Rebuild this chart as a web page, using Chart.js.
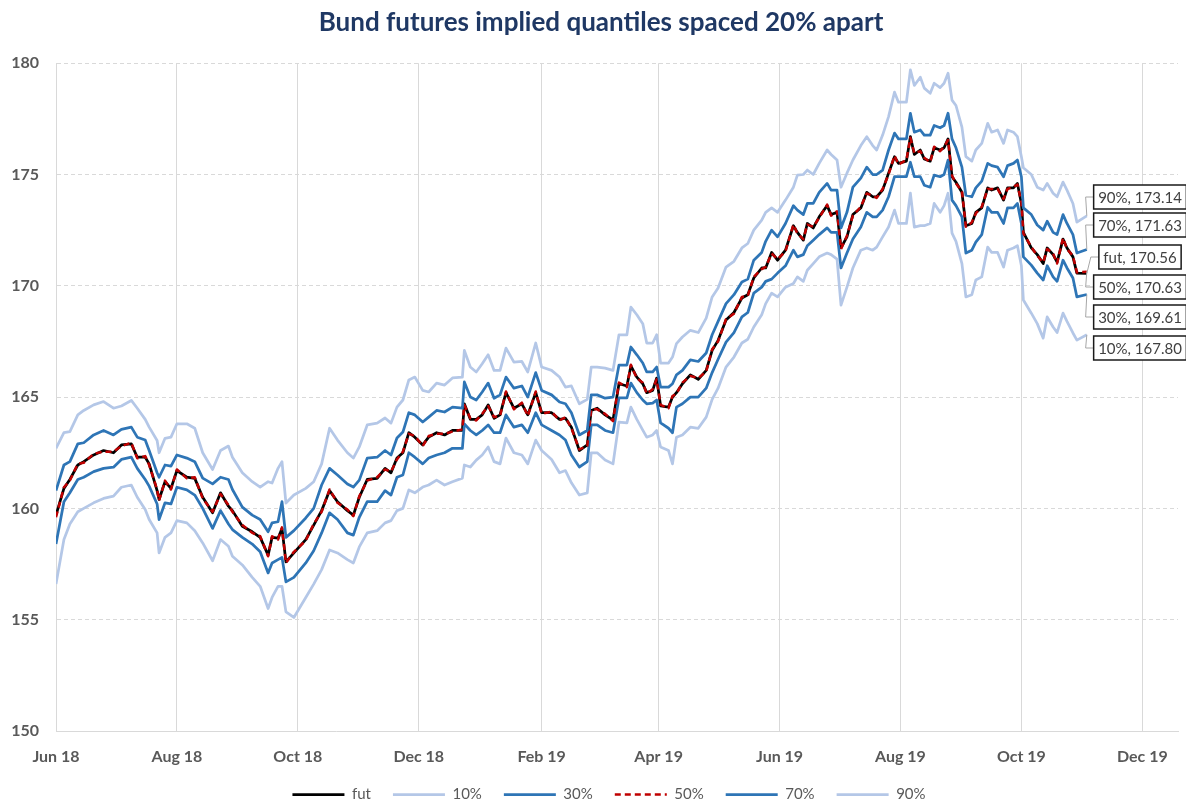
<!DOCTYPE html>
<html><head><meta charset="utf-8">
<script src="https://cdn.jsdelivr.net/npm/chart.js@4.4.1/dist/chart.umd.min.js"></script>
<style>html,body{margin:0;padding:0;background:#fff;}#wrap{width:1186px;height:802px;}</style>
</head><body><div id="wrap"><canvas id="c" width="1186" height="802"></canvas></div>
<script>
// day offsets since 2018-06-01
const startDate = '2018-06-01';
const days = [0,4,7,11,14,19,24,29,33,38,41,45,47,51,52,55,58,61,66,70,74,79,83,87,89,94,99,103,107,109,112,114,116,120,126,130,134,138,142,147,150,153,157,162,166,169,172,175,178,181,185,188,192,196,200,205,206,209,212,215,218,221,224,227,231,235,238,242,245,250,254,257,260,264,268,270,273,277,281,284,288,290,293,296,298,301,303,305,309,311,313,316,320,324,328,331,334,338,342,346,349,352,356,358,361,364,368,372,374,377,379,382,385,389,391,394,396,399,402,406,409,412,414,417,420,423,425,429,431,433,436,438,441,443,446,448,450,452,454,457,459,462,464,467,470,472,475,478,480,483,485,487,488,492,495,498,500,503,505,508,510,513,515,520];

const fut = [159.7,160.9,161.3,161.95,162.1,162.4,162.6,162.5,162.85,162.9,
162.3,162.3,162.0,160.8,160.4,161.2,160.9,161.7,161.4,161.35,
160.5,159.8,160.7,160.1,159.9,159.2,158.95,158.7,157.9,158.7,
158.66,159.1,157.6,158.0,158.6,159.25,159.9,160.8,160.3,159.9,
159.7,160.5,161.3,161.35,161.8,161.6,162.26,162.5,163.4,163.2,
162.85,163.2,163.4,163.3,163.5,163.5,164.7,164.0,164.0,164.2,
164.65,164.05,164.2,165.2,164.5,164.7,164.2,165.2,164.3,164.3,
164.0,164.05,163.65,162.6,162.85,164.4,164.5,164.2,163.97,165.6,
165.5,166.4,165.9,165.6,165.2,165.3,165.85,164.6,164.55,165.0,
165.2,165.6,166.0,165.8,166.2,167.1,167.55,168.46,168.8,169.45,
169.6,170.35,170.8,170.8,171.5,171.15,171.6,172.7,172.4,172.05,
172.8,172.6,173.1,173.6,173.2,173.3,171.7,172.2,173.2,173.5,
174.2,174.0,174.0,174.3,175.06,175.8,175.5,175.6,176.7,175.9,
176.1,175.7,175.6,176.2,176.1,176.2,176.6,174.9,174.65,174.2,
172.7,172.8,173.3,173.5,174.4,174.3,174.4,173.85,174.4,174.4,
174.6,173.7,172.4,171.7,171.4,171.0,171.7,171.4,171.06,172.1,
171.7,171.3,170.57,170.56];

const q10 = [156.6,158.6,159.3,159.85,160.0,160.25,160.45,160.55,160.95,161.05,
160.5,159.95,159.5,158.9,158.0,158.7,158.9,159.45,159.35,159.0,
158.45,157.65,158.6,158.3,157.85,157.46,156.9,156.5,155.5,156.0,
156.5,156.5,155.35,155.1,156.0,156.6,157.25,158.13,158.0,157.7,
157.55,158.27,158.9,159.0,159.35,159.45,159.9,160.0,160.83,160.7,
160.96,161.05,161.27,161.05,161.2,161.36,161.95,161.86,162.17,162.4,
162.76,162.1,162.0,163.16,162.5,162.4,162.0,163.07,162.6,162.2,
161.6,161.7,161.15,160.6,160.7,162.5,162.5,162.17,162.0,163.88,
163.84,164.55,164.0,163.52,163.2,163.3,163.5,162.76,162.6,162.0,
163.2,163.3,163.65,163.6,164.1,164.9,165.4,166.35,166.8,167.43,
167.6,168.15,168.7,169.2,169.67,169.5,169.94,170.1,170.4,170.2,
170.7,171.0,171.3,171.47,171.4,171.2,169.13,169.94,170.8,171.6,
171.7,171.6,171.74,172.2,172.64,173.4,172.8,172.8,174.16,172.64,
172.7,172.7,172.8,173.7,173.3,173.6,174.16,172.37,172.0,171.0,
169.5,169.6,170.26,170.4,171.74,171.5,171.5,170.84,171.6,171.7,
171.8,170.9,169.36,168.77,168.3,167.65,168.6,168.15,167.9,168.77,
168.4,167.88,167.56,167.80];

const q30 = [158.4,160.3,160.7,161.3,161.4,161.65,161.8,161.85,162.2,162.3,
161.8,161.3,161.0,160.2,159.5,160.25,160.2,160.95,160.83,160.6,
160.0,159.1,159.9,159.3,159.05,158.7,158.4,158.05,157.1,157.55,
157.7,157.8,156.7,156.9,157.55,158.1,158.9,159.8,159.5,158.9,
158.8,159.6,160.3,160.3,160.8,160.6,161.4,161.5,162.5,162.3,
162.0,162.26,162.4,162.5,162.7,162.7,163.8,163.5,163.3,163.5,
163.75,163.4,163.4,164.2,163.65,163.75,163.4,164.3,163.75,163.5,
163.3,163.07,162.4,161.86,162.1,163.75,163.75,163.5,163.4,164.96,
164.96,165.63,165.2,164.87,164.7,164.73,164.87,163.84,163.6,163.4,
164.55,164.7,165.0,165.0,165.4,166.1,166.7,167.47,167.9,168.6,
168.8,169.67,169.94,170.2,170.3,170.57,170.9,171.6,171.3,171.4,
171.8,172.05,172.3,172.6,172.4,172.4,170.8,171.47,172.1,172.64,
173.3,173.1,173.1,173.4,174.0,174.9,174.9,174.9,175.55,174.9,
174.9,174.52,174.43,174.97,174.9,175.0,175.65,173.85,173.6,173.1,
171.47,171.6,171.96,172.3,173.53,173.3,173.3,172.8,173.5,173.5,
173.7,172.8,171.3,170.93,170.57,170.26,170.9,170.4,170.2,171.15,
170.8,170.35,169.5,169.61];

const q50 = [159.6,160.95,161.25,162.0,162.05,162.45,162.55,162.55,162.8,162.95,
162.25,162.35,161.95,160.85,160.35,161.25,160.85,161.75,161.35,161.4,
160.45,159.85,160.65,160.15,159.85,159.25,158.9,158.75,157.85,158.75,
158.6,159.15,157.55,158.05,158.55,159.3,159.85,160.85,160.25,159.95,
159.65,160.55,161.25,161.4,161.75,161.65,162.2,162.55,163.35,163.25,
162.8,163.25,163.35,163.35,163.45,163.55,164.65,164.05,163.95,164.25,
164.6,164.1,164.15,165.25,164.45,164.75,164.15,165.25,164.25,164.35,
163.95,164.1,163.6,162.65,162.8,164.45,164.45,164.25,163.92,165.65,
165.45,166.45,165.85,165.65,165.15,165.35,165.8,164.65,164.5,165.05,
165.15,165.65,165.95,165.85,166.15,167.15,167.5,168.5,168.75,169.5,
169.55,170.4,170.75,170.85,171.45,171.2,171.55,172.75,172.35,172.1,
172.75,172.65,173.05,173.65,173.15,173.35,171.65,172.25,173.15,173.55,
174.15,174.05,173.95,174.35,175.0,175.85,175.45,175.65,176.65,175.95,
176.05,175.75,175.55,176.25,176.05,176.25,176.55,174.95,174.6,174.25,
172.65,172.85,173.25,173.55,174.35,174.35,174.35,173.9,174.35,174.45,
174.55,173.75,172.35,171.75,171.35,171.05,171.65,171.45,171.0,172.15,
171.65,171.35,170.6,170.63];

const q70 = [160.8,161.95,162.1,162.9,162.95,163.3,163.5,163.3,163.55,163.65,
163.2,163.07,162.6,161.6,161.4,161.95,161.9,162.4,162.26,162.1,
161.36,161.1,161.4,161.3,160.85,160.06,159.7,159.5,158.95,159.35,
159.4,160.3,158.7,159.0,159.57,160.0,161.05,161.8,161.5,161.1,
160.96,161.27,162.26,162.3,162.6,162.4,163.16,163.43,164.3,164.2,
163.88,164.1,164.4,164.33,164.55,164.5,165.68,165.0,164.87,165.23,
165.63,164.95,165.1,165.9,165.4,165.5,165.0,166.1,165.3,165.1,
164.78,164.7,164.3,163.3,163.5,165.1,165.1,164.95,165.0,166.44,
166.44,167.25,166.9,166.53,166.13,166.13,166.35,165.45,165.45,165.6,
166.0,166.2,166.67,166.6,166.98,167.8,168.4,169.2,169.6,170.17,
170.3,171.15,171.5,172.0,172.5,172.2,172.8,173.6,173.4,173.2,
173.7,173.7,174.2,174.6,174.3,174.3,172.6,173.3,174.43,174.84,
175.33,175.0,175.0,175.2,176.1,176.86,176.6,176.6,177.75,176.9,
177.0,176.77,176.77,177.2,177.1,177.2,177.75,176.6,176.2,175.33,
174.07,174.0,174.4,174.7,175.5,175.4,175.33,174.9,175.4,175.5,
175.65,174.9,173.5,173.2,172.73,172.5,172.9,172.4,172.3,173.2,
172.8,172.3,171.47,171.63];

const q90 = [162.7,163.4,163.45,164.2,164.4,164.65,164.8,164.5,164.6,164.85,
164.5,164.0,163.65,163.05,162.5,163.15,163.2,163.8,163.8,163.6,
162.5,161.75,162.6,162.8,162.3,161.6,161.2,160.96,161.2,161.14,
161.8,162.1,160.24,160.6,160.9,161.2,162.0,163.6,163.07,162.5,
162.26,162.76,163.75,163.83,164.06,163.83,164.55,164.87,165.77,165.9,
165.3,165.23,165.63,165.54,165.86,165.9,167.1,166.35,166.13,166.5,
166.9,166.2,166.2,167.2,166.57,166.6,166.13,167.43,166.35,166.2,
165.9,165.45,165.5,164.7,164.9,166.35,166.35,166.3,166.2,167.8,
167.8,169.04,168.7,168.3,167.43,167.43,167.8,166.53,166.53,166.8,
167.4,167.7,168.0,167.9,168.55,169.5,169.9,170.84,171.1,171.7,
171.9,172.5,172.95,173.3,173.5,173.3,173.85,174.43,174.97,175.0,
175.2,175.0,175.5,176.1,175.9,175.65,174.43,175.06,175.65,176.3,
176.7,176.3,176.1,176.77,177.6,178.7,178.25,178.25,179.7,179.0,
179.37,178.88,178.65,179.1,178.9,179.1,179.55,178.34,178.1,177.13,
175.8,175.6,176.1,176.4,177.3,176.9,177.0,176.4,177.0,176.9,
176.7,175.8,175.3,175.0,174.43,174.3,174.6,174.16,174.0,174.66,
174.3,173.7,172.86,173.14];

const seriesNames = ['fut','10%','30%','50%','70%','90%'];
const tickDates = ['2018-06-01','2018-08-01','2018-10-01','2018-12-01','2019-02-01','2019-04-01','2019-06-01','2019-08-01','2019-10-01','2019-12-01'];
const tickLabels = ['Jun 18','Aug 18','Oct 18','Dec 18','Feb 19','Apr 19','Jun 19','Aug 19','Oct 19','Dec 19'];
const axisEndDate = '2019-12-19';
const yMin = 150, yMax = 180, yStep = 5;
const titleText = 'Bund futures implied quantiles spaced 20% apart';

const DAY = 86400000;
const dayOf = s => Math.round((Date.parse(s) - Date.parse(startDate)) / DAY);
const tickDays = tickDates.map(dayOf);
const toPts = arr => days.map((d, i) => ({x: d, y: arr[i]}));

const LIGHT = '#B4C7E7', DARK = '#2E75B6', RED = '#C00000';
const datasets = [
  {label: seriesNames[0], data: toPts(fut), borderColor: '#000000', backgroundColor: '#000000', borderWidth: 2.75, order: 6},
  {label: seriesNames[1], data: toPts(q10), borderColor: LIGHT, backgroundColor: LIGHT, borderWidth: 2.75, order: 5},
  {label: seriesNames[2], data: toPts(q30), borderColor: DARK, backgroundColor: DARK, borderWidth: 2.75, order: 4},
  {label: seriesNames[3], data: toPts(q50), borderColor: RED, backgroundColor: RED, borderWidth: 2.5, borderDash: [6, 4], order: 3},
  {label: seriesNames[4], data: toPts(q70), borderColor: DARK, backgroundColor: DARK, borderWidth: 2.75, order: 2},
  {label: seriesNames[5], data: toPts(q90), borderColor: LIGHT, backgroundColor: LIGHT, borderWidth: 2.75, order: 1}
];
datasets.forEach(d => { d.pointRadius = 0; d.tension = 0; d.fill = false; d.borderJoinStyle = 'round'; });

const blockShift = {
  id: 'blockShift',
  afterLayout(chart) {
    chart.legend.left += 20; chart.legend.right += 20;
    if (chart.titleBlock) { chart.titleBlock.left += 12; chart.titleBlock.right += 12; }
  }
};

const endLabels = {
  id: 'endLabels',
  afterDraw(chart) {
    const ctx = chart.ctx;
    const order = [5, 4, 0, 3, 2, 1];
    const centers = [197, 225, 257, 287, 317, 348];
    ctx.save();
    ctx.font = '15px Lato';
    ctx.textAlign = 'center';
    ctx.textBaseline = 'middle';
    order.forEach((di, k) => {
      const ds = chart.data.datasets[di];
      const meta = chart.getDatasetMeta(di);
      const pt = meta.data[meta.data.length - 1];
      const val = ds.data[ds.data.length - 1].y;
      const text = seriesNames[di] + ', ' + val.toFixed(2);
      const tw = ctx.measureText(text).width;
      const bw = tw + 9, bh = 24, cx = 1140, cy = centers[k];
      const bx = cx - bw / 2, by = cy - bh / 2;
      if (pt.y < by || pt.y > by + bh) {
        ctx.strokeStyle = '#A6A6A6'; ctx.lineWidth = 1; ctx.setLineDash([]);
        ctx.beginPath(); ctx.moveTo(pt.x, pt.y); ctx.lineTo(bx - 8, cy); ctx.lineTo(bx, cy); ctx.stroke();
      }
      ctx.fillStyle = '#FFFFFF';
      ctx.fillRect(bx, by, bw, bh);
      ctx.strokeStyle = '#1A1A1A'; ctx.lineWidth = 1.5;
      ctx.strokeRect(bx, by, bw, bh);
      ctx.fillStyle = '#404040';
      ctx.fillText(text, cx, cy + 1);
    });
    ctx.restore();
  }
};

new Chart(document.getElementById('c'), {
  type: 'line',
  data: {datasets},
  plugins: [blockShift, endLabels],
  options: {
    responsive: false, animation: false, devicePixelRatio: 1,
    layout: {padding: {left: 0, right: 8, top: 0, bottom: -10}},
    plugins: {
      tooltip: {enabled: false},
      title: {display: true, text: titleText, color: '#1F3864', font: {family: 'Lato', size: 26, weight: 'bold'}, padding: {top: 7, bottom: 25}},
      legend: {
        position: 'bottom',
        labels: {usePointStyle: true, pointStyle: 'line', pointStyleWidth: 52, boxWidth: 52, padding: 22,
          color: '#595959', font: {family: 'Lato', size: 15},
          sort: (a, b) => a.datasetIndex - b.datasetIndex,
          generateLabels: (chart) => {
            const items = Chart.defaults.plugins.legend.labels.generateLabels(chart);
            items.forEach(it => {
              const ds = chart.data.datasets[it.datasetIndex];
              it.lineDash = ds.borderDash || [];
              it.lineWidth = ds.borderWidth;
              it.strokeStyle = ds.borderColor;
              it.fillStyle = ds.borderColor;
              it.pointStyle = 'line';
            });
            return items;
          }}
      }
    },
    scales: {
      x: {
        type: 'linear', min: 0, max: dayOf(axisEndDate),
        afterBuildTicks: s => { s.ticks = tickDays.map(v => ({value: v})); },
        afterFit: s => { s.height = 34; },
        ticks: {autoSkip: false, maxRotation: 0, padding: 16, color: '#595959',
          font: {family: 'Lato', size: 16, weight: 'bold'},
          callback: (v, i) => tickLabels[i]},
        grid: {color: '#D9D9D9', lineWidth: 1, drawTicks: false},
        border: {display: true, color: '#D9D9D9'}
      },
      y: {
        min: yMin, max: yMax,
        afterFit: s => { s.width = 56; },
        ticks: {stepSize: yStep, padding: 17, color: '#595959', font: {family: 'Lato', size: 16, weight: 'bold'}},
        grid: {color: '#D9D9D9', lineWidth: 1, drawTicks: false},
        border: {display: true, color: '#D9D9D9', dash: [4, 3]}
      }
    }
  }
});
</script>
</body></html>
